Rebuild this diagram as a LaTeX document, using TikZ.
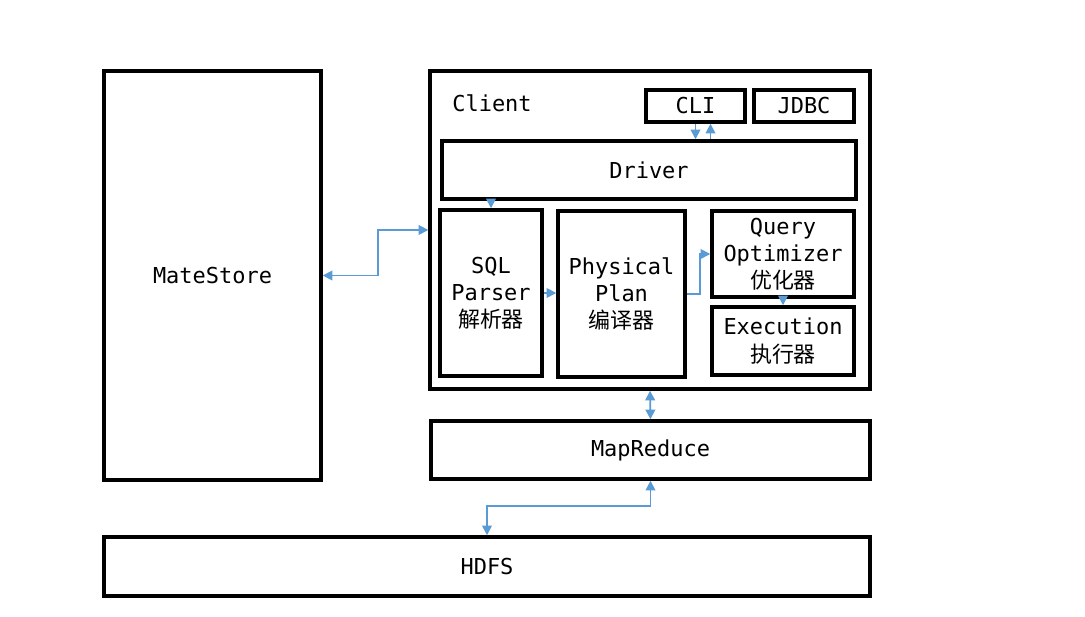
\documentclass[tikz,border=0pt]{standalone}
\usepackage{fontspec}
\setmainfont{DejaVu Sans Mono}
\newfontfamily\cjk{Noto Sans CJK SC}
\usetikzlibrary{arrows.meta}
\definecolor{linkblue}{HTML}{5B9BD5}
\tikzset{
  blk/.style={draw, line width=2pt, align=center, inner sep=0pt,
    font=\fontsize{12.5}{15.5}\selectfont},
  conn/.style={draw=linkblue, line width=1pt,
    arrows={-Triangle[length=5.5pt,width=5.5pt]}},
  bconn/.style={conn, arrows={Triangle[length=5.5pt,width=5.5pt]-Triangle[length=5.5pt,width=5.5pt]}}
}
\begin{document}
\begin{tikzpicture}[x=0.02cm,y=-0.02cm]
          \useasboundingbox[fill=white] (0,0) rectangle (1085,617);

          % storage and engine
          \node[blk, minimum width=4.34cm, minimum height=8.18cm] (ms) at (212.5,275.5) {MateStore};
          \node[blk, minimum width=8.8cm, minimum height=6.36cm] (client) at (650,230) {};
          \node[anchor=west, inner sep=0pt, font=\fontsize{12.5}{15.5}\selectfont] (clientlbl) at (452,103) {Client};
          \node[blk, minimum width=8.78cm, minimum height=1.16cm] (mr) at (650.5,450) {MapReduce};
          \node[blk, minimum width=15.32cm, minimum height=1.18cm] (hdfs) at (487,566.5) {HDFS};

          % inside the client
          \node[blk, minimum width=1.98cm, minimum height=0.64cm] (cli) at (695.5,106) {CLI};
          \node[blk, minimum width=2.0cm, minimum height=0.64cm] (jdbc) at (804,106) {JDBC};
          \node[blk, minimum width=8.28cm, minimum height=1.16cm] (drv) at (649,170) {Driver};
          \node[blk, minimum width=2.04cm, minimum height=3.32cm] (sql) at (491,293) {SQL\\Parser\\{\cjk 解析器}};
          \node[blk, minimum width=2.54cm, minimum height=3.32cm] (phy) at (621.5,294) {Physical\\Plan\\{\cjk 编译器}};
          \node[blk, minimum width=2.84cm, minimum height=1.72cm] (opt) at (783,254) {Query\\Optimizer\\{\cjk 优化器}};
          \node[blk, minimum width=2.84cm, minimum height=1.36cm] (exe) at (783,341) {Execution\\{\cjk 执行器}};

          % connectors
          \draw[conn] (cli.south) -- (cli.south |- drv.north);
          \draw[conn] ([xshift=0.3cm]cli.south |- drv.north) -- ([xshift=0.3cm]cli.south);
          \draw[conn] (sql.north |- drv.south) -- (sql.north);
          \draw[conn] (sql.east) -- (sql.east -| phy.west);
          \draw[conn] (phy.east) -- ++(13,0) |- (opt.west);
          \draw[conn] (opt.south) -- (exe.north);
          \draw[bconn] (ms.east) -- ++(55,0) |- (client.west);
          \draw[bconn] (client.south) -- (mr.north);
          \draw[bconn] (hdfs.north) -- ++(0,-29) -| (mr.south);

    \end{tikzpicture}
\end{document}
